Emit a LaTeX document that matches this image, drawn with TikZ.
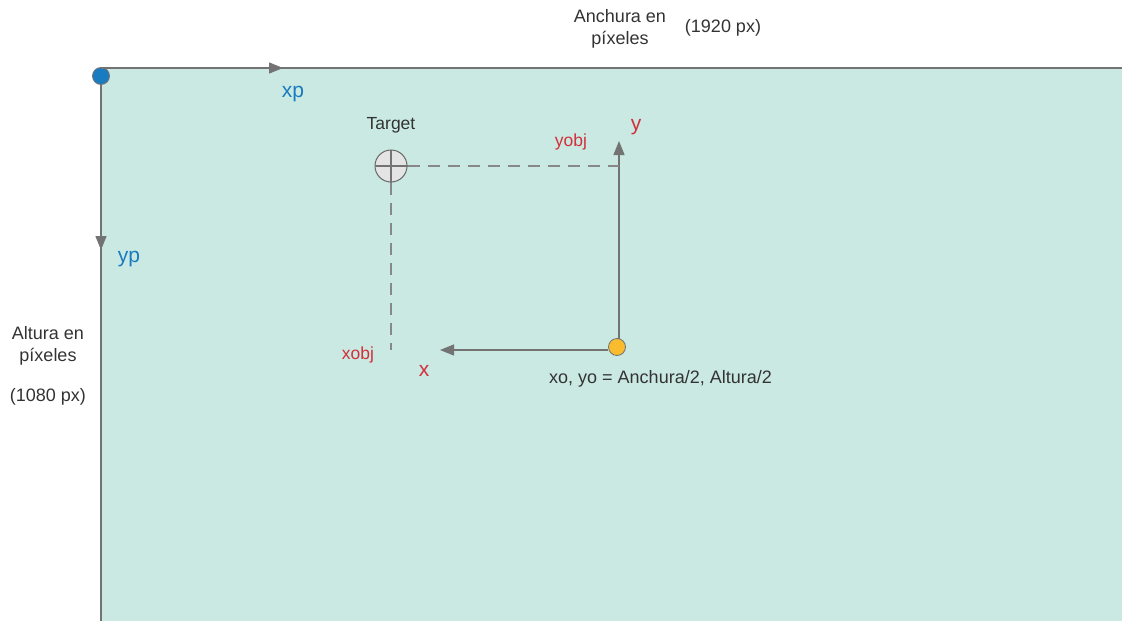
\documentclass[tikz,border=0pt]{standalone}
\usepackage{fontspec}
\setmainfont{Liberation Sans}
\usetikzlibrary{arrows.meta}
\definecolor{panel}{HTML}{C9E9E2}
\definecolor{edge}{HTML}{737373}
\definecolor{axisblue}{HTML}{1A7CC0}
\definecolor{axisred}{HTML}{D2303A}
\definecolor{ink}{HTML}{333333}
\definecolor{origin}{HTML}{F8BC2E}
\definecolor{targetfill}{HTML}{E4E4E4}
\tikzset{
  axisline/.style={draw=edge, line width=1.3pt},
  axisarrow/.style={axisline, -{Triangle[length=14pt,width=11pt]}},
  guide/.style={draw=edge!85, line width=1.3pt, dash pattern=on 12pt off 8pt},
  dot/.style={circle, minimum size=17pt, inner sep=0pt, draw=edge, line width=0.8pt},
  plain/.style={text=ink, font=\fontsize{18}{22}\selectfont, align=center, inner sep=0pt},
  bluelbl/.style={text=axisblue, font=\fontsize{21}{24}\selectfont, inner sep=0pt},
  redbig/.style={text=axisred, font=\fontsize{21}{24}\selectfont, inner sep=0pt},
  redsmall/.style={text=axisred, font=\fontsize{17.5}{20}\selectfont, inner sep=0pt},
}
\begin{document}
\begin{tikzpicture}[x=1pt, y=-1pt]
\useasboundingbox (0,0) rectangle (1122,621);
% screen area
\fill[panel] (101,68) rectangle (1122,621);
\draw[axisline] (1122,68) -- (101,68) -- (101,621);

% pixel axes from the top-left corner
\node[dot, fill=axisblue] (p0) at (101,76) {};
\coordinate (xpend) at (283,68);
\coordinate (ypend) at (101,250);
\draw[axisarrow] (101,68) -- (xpend);
\draw[axisarrow] (p0.south) -- (ypend);
\node[bluelbl] (xp) at (293,94) {xp};
\node[bluelbl] (yp) at (129,259) {yp};

% image size labels
\node[plain] (anch) at (620,29) {Anchura en\\píxeles};
\node[plain] (anchpx) at (723,28) {(1920 px)};
\node[plain] (alt) at (48,346) {Altura en\\píxeles};
\node[plain] (altpx) at (48,397) {(1080 px)};

% target with crosshair
\node[circle, minimum size=32pt, inner sep=0pt, draw=edge!90!black, line width=1pt, fill=targetfill] (tgt) at (391,166) {};
\draw[edge, line width=1.2pt] (tgt.north) -- (tgt.south) (tgt.west) -- (tgt.east);
\node[plain, font=\fontsize{17.5}{22}\selectfont] (tgtlbl) at (391,125) {Target};

% centred axes
\node[dot, fill=origin] (o) at (617,347) {};
\coordinate (ytip) at (619,141);
\coordinate (xtip) at (440,350);
\draw[axisarrow] (619,339) -- (ytip);
\draw[axisarrow] (o.west |- 0,350) -- (xtip);
\node[redbig] (ylbl) at (636,127) {y};
\node[redbig] (xlbl) at (424,371) {x};

% projections of the target
\coordinate (yproj) at (619,166);
\coordinate (xproj) at (391,350);
\draw[guide] (tgt.east) -- (yproj);
\draw[guide] (tgt.south) -- (xproj);
\node[redsmall] (yobj) at (571,142) {yobj};
\node[redsmall] (xobj) at (358,355) {xobj};

\node[plain, anchor=west] (olbl) at (549,379) {xo, yo = Anchura/2, Altura/2};
\end{tikzpicture}
\end{document}
